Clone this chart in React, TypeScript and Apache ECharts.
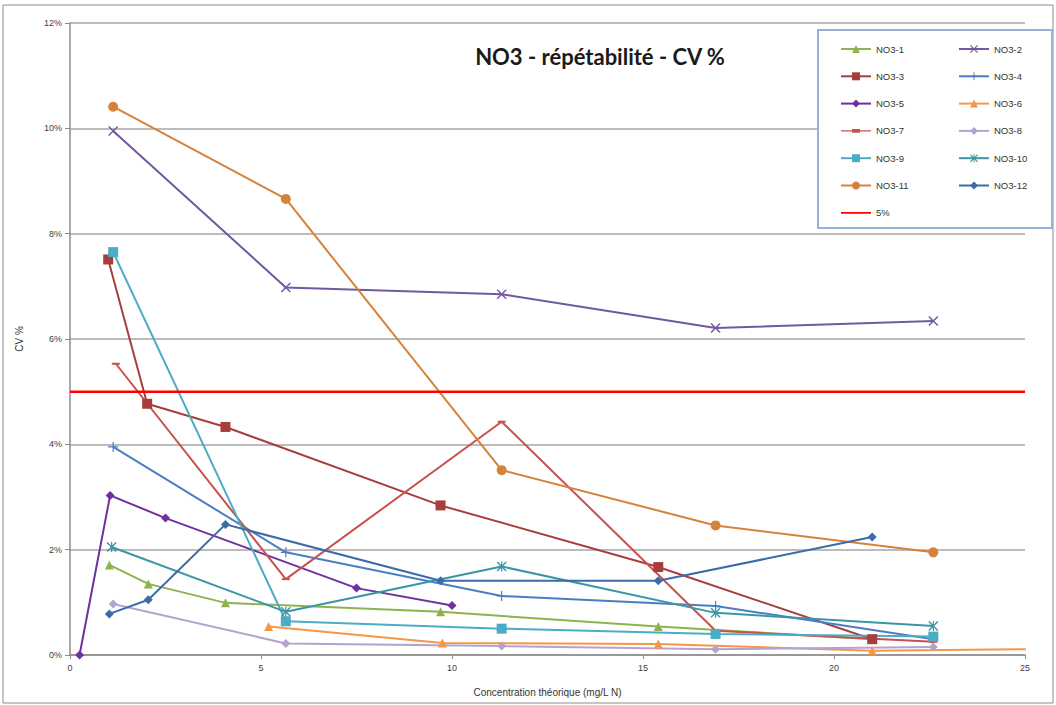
import React, { useEffect, useRef } from "react";
import * as echarts from "echarts";

const TITLE = "NO3 - répétabilité - CV %";
const X_NAME = "Concentration théorique (mg/L N)";
const Y_NAME = "CV %";

const NAMES = ["NO3-1", "NO3-2", "NO3-3", "NO3-4", "NO3-5", "NO3-6", "NO3-7", "NO3-8", "NO3-9", "NO3-10", "NO3-11", "NO3-12"];

const NO3_1_X = [1.03, 2.05, 4.07, 9.7, 15.4, 21.0];
const NO3_1_Y = [1.71, 1.35, 0.99, 0.82, 0.54, 0.3];
const NO3_2_X = [1.13, 5.65, 11.3, 16.9, 22.6];
const NO3_2_Y = [9.95, 6.98, 6.85, 6.21, 6.34];
const NO3_3_X = [1.0, 2.02, 4.07, 9.7, 15.4, 21.0];
const NO3_3_Y = [7.51, 4.77, 4.33, 2.84, 1.67, 0.3];
const NO3_4_X = [1.13, 5.65, 11.3, 16.9, 22.6];
const NO3_4_Y = [3.95, 1.95, 1.12, 0.93, 0.3];
const NO3_5_X = [0.25, 1.05, 2.5, 7.5, 10.0];
const NO3_5_Y = [0.0, 3.03, 2.6, 1.27, 0.94];
const NO3_6_X = [5.2, 9.75, 15.4, 21.0, 26.6];
const NO3_6_Y = [0.54, 0.23, 0.21, 0.08, 0.12];
const NO3_7_X = [1.2, 5.65, 11.3, 16.9, 22.6];
const NO3_7_Y = [5.53, 1.44, 4.43, 0.46, 0.25];
const NO3_8_X = [1.13, 5.65, 11.3, 16.9, 22.6];
const NO3_8_Y = [0.97, 0.22, 0.17, 0.11, 0.15];
const NO3_9_X = [1.13, 5.65, 11.3, 16.9, 22.6];
const NO3_9_Y = [7.65, 0.64, 0.5, 0.4, 0.35];
const NO3_10_X = [1.09, 5.65, 11.3, 16.9, 22.6];
const NO3_10_Y = [2.05, 0.82, 1.68, 0.8, 0.55];
const NO3_11_X = [1.13, 5.65, 11.3, 16.9, 22.6];
const NO3_11_Y = [10.41, 8.66, 3.51, 2.46, 1.95];
const NO3_12_X = [1.03, 2.05, 4.07, 9.7, 15.4, 21.0];
const NO3_12_Y = [0.78, 1.05, 2.48, 1.41, 1.41, 2.24];
const LIMIT_X = [0, 25];
const LIMIT_Y = [5, 5];
const LIMIT_NAME = "5%";

const X_TICKS = [0, 5, 10, 15, 20, 25];
const Y_TICKS = [0, 2, 4, 6, 8, 10, 12];

const XS = [NO3_1_X, NO3_2_X, NO3_3_X, NO3_4_X, NO3_5_X, NO3_6_X, NO3_7_X, NO3_8_X, NO3_9_X, NO3_10_X, NO3_11_X, NO3_12_X];
const YS = [NO3_1_Y, NO3_2_Y, NO3_3_Y, NO3_4_Y, NO3_5_Y, NO3_6_Y, NO3_7_Y, NO3_8_Y, NO3_9_Y, NO3_10_Y, NO3_11_Y, NO3_12_Y];

const COLORS = ["#8EB34D", "#7158A0", "#A83E3B", "#4A7EC3", "#7030A0", "#F79646", "#C8504D", "#B4A3CE", "#4BACC6", "#3A96A6", "#D5833A", "#3D6AA8"];

const X_SYM = "path://M0,1L1,0L5,4L9,0L10,1L6,5L10,9L9,10L5,6L1,10L0,9L4,5Z";
const PLUS_SYM = "path://M4.4,0H5.6V4.4H10V5.6H5.6V10H4.4V5.6H0V4.4H4.4Z";
const AST_SYM = "path://M0,1L1,0L5,4L9,0L10,1L6,5L10,9L9,10L5,6L1,10L0,9L4,5ZM4.4,0H5.6V10H4.4Z";
const LINE_ICON = "path://M0,0H0.01V0.01H0Z M0,4.1H30V5.9H0Z M29.99,9.99H30V10H29.99Z";
const DASH_ICON = "path://M0,0H0.01V0.01H0Z M0,4.3H30V5.7H0Z M11,3.2H19V6.8H11Z M29.99,9.99H30V10H29.99Z";

const SYMBOLS: any[] = ["triangle", X_SYM, "rect", PLUS_SYM, "diamond", "triangle", "rect", "diamond", "rect", AST_SYM, "circle", "diamond"];
const SIZES: any[] = [9, 10, 10, 10, 9, 9, [8, 2], 9, 10, 10, 10, 9];

export default function App() {
  const ref = useRef<HTMLDivElement>(null);
  useEffect(() => {
    if (!ref.current) return;
    const chart = echarts.init(ref.current, null, { renderer: "svg" });
    const series: any[] = NAMES.map((name, i) => ({
      name,
      type: "line",
      data: XS[i].map((x, j) => [x, YS[i][j]]),
      symbol: SYMBOLS[i],
      symbolSize: SIZES[i],
      showAllSymbol: true,
      clip: true,
      lineStyle: { color: COLORS[i], width: 2 },
      itemStyle: { color: COLORS[i] },
      z: 3,
    }));
    series.push({
      name: LIMIT_NAME,
      type: "line",
      data: LIMIT_X.map((x, j) => [x, LIMIT_Y[j]]),
      symbol: "none",
      lineStyle: { color: "#FF0000", width: 2.5 },
      itemStyle: { color: "#FF0000" },
      z: 3,
    });
    const toItem = (n: string) => {
      if (n === LIMIT_NAME) return { name: n, icon: LINE_ICON };
      if (n === NAMES[6]) return { name: n, icon: DASH_ICON };
      return { name: n };
    };
    const leftCol = [0, 2, 4, 6, 8, 10].map((i) => NAMES[i]).concat([LIMIT_NAME]).map(toItem);
    const rightCol = [1, 3, 5, 7, 9, 11].map((i) => NAMES[i]).map(toItem);
    const legendCommon = {
      orient: "vertical",
      itemWidth: 30,
      itemHeight: 10,
      itemGap: 17.3,
      textStyle: { fontSize: 9.5, color: "#333", fontFamily: "Liberation Sans" },
      selectedMode: false,
      z: 6,
    };
    chart.setOption({
      animation: false,
      backgroundColor: "#fff",
      textStyle: { fontFamily: "Liberation Sans" },
      grid: { left: 70, right: 31, top: 23, bottom: 50 },
      legend: [
        { ...legendCommon, left: 835, top: 39, data: leftCol },
        { ...legendCommon, left: 953, top: 39, data: rightCol },
      ],
      graphic: [
        {
          type: "rect",
          shape: { x: 3, y: 5, width: 1050, height: 698 },
          style: { fill: "none", stroke: "#8C8C8C", lineWidth: 1 },
          z: 0,
        },
        {
          type: "rect",
          shape: { x: 818, y: 30, width: 234, height: 198 },
          style: { fill: "#fff", stroke: "#95B3D7", lineWidth: 2 },
          z: 5,
        },
        {
          type: "text",
          x: 600,
          y: 56,
          style: {
            text: TITLE,
            fontSize: 22,
            fontWeight: "bold",
            fontFamily: "Lato",
            fill: "#1a1a1a",
            align: "center",
            verticalAlign: "middle",
          },
          z: 6,
        },
      ],
      xAxis: {
        type: "value",
        min: X_TICKS[0],
        max: X_TICKS[X_TICKS.length - 1],
        interval: X_TICKS[1] - X_TICKS[0],
        name: X_NAME,
        nameLocation: "middle",
        nameGap: 32,
        nameTextStyle: { fontSize: 10, color: "#333" },
        axisLine: { show: true, lineStyle: { color: "#8C8C8C", width: 1.5 } },
        axisTick: { show: true, length: 4, lineStyle: { color: "#8C8C8C" } },
        axisLabel: { fontSize: 9, color: "#404040", margin: 8 },
        splitLine: { show: false },
      },
      yAxis: {
        type: "value",
        min: Y_TICKS[0],
        max: Y_TICKS[Y_TICKS.length - 1],
        interval: Y_TICKS[1] - Y_TICKS[0],
        name: Y_NAME,
        nameLocation: "middle",
        nameGap: 46,
        nameRotate: 90,
        nameTextStyle: { fontSize: 10, color: "#333" },
        axisLine: { show: true, lineStyle: { color: "#8C8C8C", width: 1.5 } },
        axisTick: { show: true, length: 5, lineStyle: { color: "#8C8C8C" } },
        axisLabel: { fontSize: 9, color: "#404040", formatter: "{value}%", margin: 8 },
        splitLine: { show: true, lineStyle: { color: "#A6A6A6", width: 1.5 } },
      },
      series,
    });
    return () => chart.dispose();
  }, []);
  return <div ref={ref} style={{ position: "fixed", left: 0, top: 0, width: 1056, height: 705 }} />;
}
